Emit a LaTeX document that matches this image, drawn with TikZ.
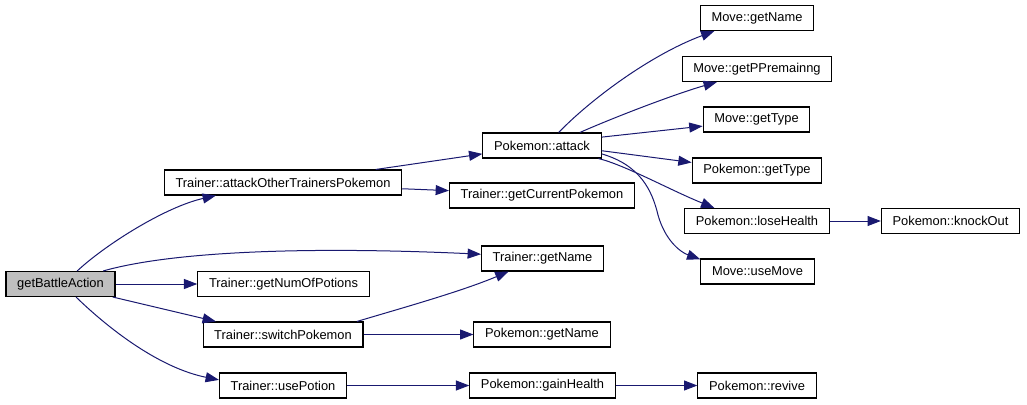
\documentclass[tikz,border=0pt]{standalone}
\usepackage{fontspec}
\setmainfont{Liberation Sans}
\usepackage{xcolor}
\usepackage{tikz}
\usetikzlibrary{arrows.meta}
\definecolor{callblue}{HTML}{191970}
\definecolor{rootgrey}{HTML}{BFBFBF}

\begin{document}
\begin{tikzpicture}[x=0.75pt, y=-0.75pt]
          \tikzstyle{every node}=[rectangle, draw, line width=0.8pt, fill=white, minimum height=18.75pt, inner xsep=8.4pt, inner ysep=0pt, font=\fontsize{9.65}{11}\selectfont]
          \tikzstyle{call}=[draw=callblue, line width=0.75pt, -{Triangle[length=10pt, width=7.5pt]}]
          \useasboundingbox (0,0) rectangle (1027,404);
          \node (BattleAction)[fill=rootgrey] at (60.5,284) {getBattleAction};
          \node (AttackOther) at (283,182.5) {Trainer::attackOtherTrainersPokemon};
          \node (NumPotions) at (283.5,284) {Trainer::getNumOfPotions};
          \node (SwitchPokemon) at (283,334.5) {Trainer::switchPokemon};
          \node (UsePotion) at (283,385.5) {Trainer::usePotion};
          \node (PokemonAttack) at (542,145.5) {Pokemon::attack};
          \node (CurrentPokemon) at (542,195.5) {Trainer::getCurrentPokemon};
          \node (TrainerName) at (542.5,258.5) {Trainer::getName};
          \node (PokemonName) at (542,334.5) {Pokemon::getName};
          \node (GainHealth) at (542.5,385.5) {Pokemon::gainHealth};
          \node (MoveName) at (757,18) {Move::getName};
          \node (MovePP) at (757,69) {Move::getPPremainng};
          \node (MoveType) at (756.5,119.5) {Move::getType};
          \node (PokemonType) at (757,170.5) {Pokemon::getType};
          \node (LoseHealth) at (757,221) {Pokemon::loseHealth};
          \node (UseMove) at (757.5,271.5) {Move::useMove};
          \node (Revive) at (757,385.5) {Pokemon::revive};
          \node (KnockOut) at (950.5,221) {Pokemon::knockOut};
          \draw[call] (BattleAction.38) .. controls (105,245) and (165,207) .. (AttackOther.-169);
          \draw[call] (BattleAction.17) .. controls (170,252) and (300,246) .. (TrainerName.176);
          \draw[call] (BattleAction.east) -- (NumPotions.west);
          \draw[call] (BattleAction.-14) -- (SwitchPokemon.169);
          \draw[call] (BattleAction.-40) .. controls (110,330) and (160,368) .. (UsePotion.175);
          \draw[call] (SwitchPokemon.10) .. controls (395,310) and (460,292) .. (TrainerName.201);
          \draw[call] (SwitchPokemon.east) -- (PokemonName.west);
          \draw[call] (UsePotion.east) -- (GainHealth.west);
          \draw[call] (GainHealth.east) -- (Revive.west);
          \draw[call] (AttackOther.8) -- (PokemonAttack.188);
          \draw[call] (AttackOther.-3) -- (CurrentPokemon.177);
          \draw[call] (PokemonAttack.38) .. controls (590,100) and (650,55) .. (MoveName.197);
          \draw[call] (PokemonAttack.19) .. controls (615,117) and (675,94) .. (MovePP.198);
          \draw[call] (PokemonAttack.8) -- (MoveType.187);
          \draw[call] (PokemonAttack.-5) -- (PokemonType.173);
          \draw[call] (PokemonAttack.-13) .. controls (625,165) and (670,190) .. (LoseHealth.163);
          \draw[call] (PokemonAttack.-8) .. controls (640,165) and (652,190) .. (658,215) .. controls (665,240) and (680,252) .. (UseMove.168);
          \draw[call] (LoseHealth.east) -- (KnockOut.west);
        \end{tikzpicture}
\end{document}
